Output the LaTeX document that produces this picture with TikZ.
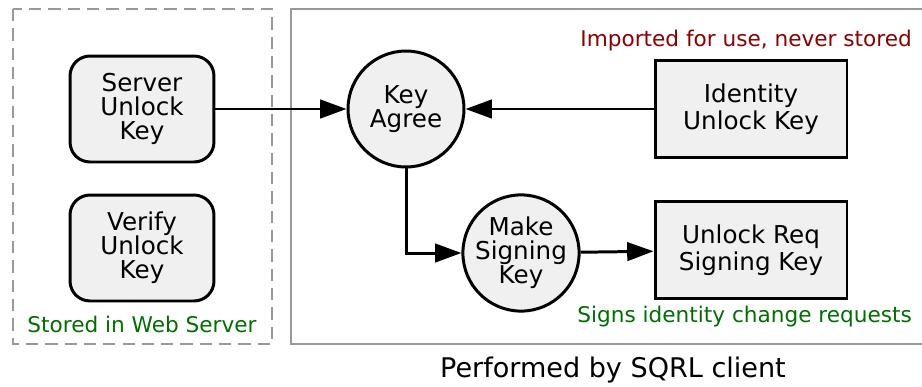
\documentclass[tikz,border=0pt]{standalone}
\usepackage{fontspec}
\setmainfont{DejaVu Sans}
\usetikzlibrary{positioning,arrows.meta}
\definecolor{keyfill}{HTML}{F0F0F0}
\definecolor{framegray}{HTML}{999999}
\definecolor{storedgreen}{HTML}{006E00}
\definecolor{importred}{HTML}{8B0000}
\tikzset{keynode/.style={draw,line width=1.7pt,fill=keyfill,align=center,
           font=\fontsize{14}{13.6}\selectfont},
         storedkey/.style={keynode,rounded corners=0.4cm,minimum width=2.88cm,minimum height=2.12cm},
         clientkey/.style={keynode,minimum width=3.84cm,minimum height=1.94cm,
           font=\fontsize{14}{15.6}\selectfont},
         step node/.style={keynode,circle,minimum size=2.32cm,inner sep=0pt},
         flow/.style={line width=1.7pt,-{Triangle[length=15pt,width=10.5pt]}},
         note/.style={font=\fontsize{12.3}{14}\selectfont},
         }
\begin{document}
\begin{tikzpicture}[x=0.02cm, y=-0.02cm,
	frame/.style={draw=framegray,line width=1.1pt}]
\useasboundingbox (0,0) rectangle (922,386);
\draw[frame,dash pattern=on 7pt off 4pt] (13,9) rectangle (272,344);
\draw[frame] (291,9) rectangle (926,344);
\node[storedkey] (suk) at (142,109) {Server\\Unlock\\Key};
\node[storedkey] (vuk) at (142,248) {Verify\\Unlock\\Key};
\node[note,text=storedgreen] (stored) at (142,324) {Stored in Web Server};
\node[step node] (agree) at (406,109) {Key\\Agree};
\node[step node] (make) at (521,253) {Make\\Signing\\Key};
\node[clientkey] (iuk) at (751,109) {Identity\\Unlock Key};
\node[clientkey] (ursk) at (751,250) {Unlock Req\\Signing Key};
\node[note,text=importred,anchor=east] (imported) at (918,41) {Imported for use, never stored};
\node[note,text=storedgreen,anchor=east] (signs) at (918,317) {Signs identity change requests};
\node[font=\fontsize{15.4}{18}\selectfont] (client) at (613,370) {Performed by SQRL client};
\draw[flow] (suk) -- (agree);
\draw[flow] (iuk) -- (agree);
\draw[flow] (agree.south) |- (make.west);
\draw[flow] (make) -- (ursk);
\end{tikzpicture}
\end{document}
